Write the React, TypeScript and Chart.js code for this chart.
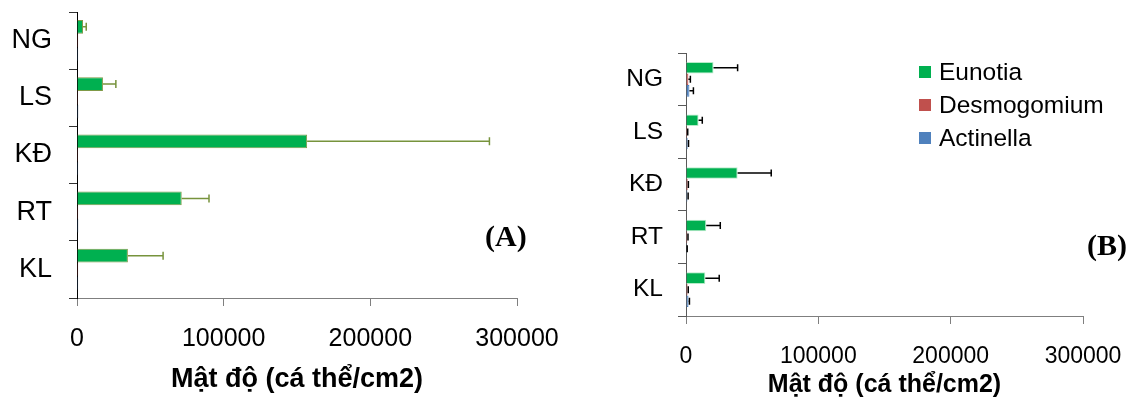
import React, { useEffect, useRef } from "react";
import { Chart, registerables } from "chart.js";

Chart.register(...registerables);

// ---------- data ----------
const categories = ["NG", "LS", "KĐ", "RT", "KL"];
const seriesNames = ["Eunotia", "Desmogomium", "Actinella"];
const xTickValues = [0, 100000, 200000, 300000];
const axisTitle = "Mật độ (cá thể/cm2)";
const panelLabels = ["(A)", "(B)"];

// Panel A
const aEunotia = [4100, 17700, 156900, 71400, 34700];
const aEunotiaErr = [2200, 8800, 124300, 18600, 24000];
const aDesmogomium = [800, 700, 700, 800, 800];
const aDesmogomiumErr = [0, 0, 0, 0, 0];
const aActinella = [800, 900, 800, 900, 800];
const aActinellaErr = [0, 0, 0, 0, 0];

// Panel B
const bEunotia = [20800, 9500, 39000, 15300, 14600];
const bEunotiaErr = [18200, 2800, 25400, 10600, 10500];
const bDesmogomium = [1800, 900, 1300, 1000, 1200];
const bDesmogomiumErr = [1500, 400, 500, 500, 500];
const bActinella = [2600, 1300, 1100, 600, 1900];
const bActinellaErr = [3000, 600, 500, 300, 700];

const FONT = "'Liberation Sans', Arial, sans-serif";
const GREEN = "#00b050";
const RED = "#c0504d";
const BLUE = "#4f81bd";

Chart.defaults.font.family = FONT;
Chart.defaults.color = "#000";

// ---------- plugins ----------
const errorBarPlugin = {
  id: "errorBars",
  afterDatasetsDraw(chart: any) {
    const ctx = chart.ctx;
    const xScale = chart.scales.x;
    chart.data.datasets.forEach((ds: any, di: number) => {
      const meta = chart.getDatasetMeta(di);
      const errs: number[] | undefined = ds.errors;
      if (!errs) return;
      meta.data.forEach((el: any, i: number) => {
        const v = ds.data[i];
        const e = errs[i];
        if (!e) return;
        const x0 = xScale.getPixelForValue(v);
        const x1 = xScale.getPixelForValue(v + e);
        const y = el.y;
        const cap = ds.errorCap || 7;
        ctx.save();
        ctx.strokeStyle = ds.errorColor || "#000";
        ctx.lineWidth = ds.errorWidth || 1;
        ctx.beginPath();
        ctx.moveTo(x0, y);
        ctx.lineTo(x1, y);
        ctx.moveTo(x1, y - cap / 2);
        ctx.lineTo(x1, y + cap / 2);
        ctx.stroke();
        ctx.restore();
      });
    });
  },
};

const decorPlugin = {
  id: "decor",
  afterDraw(chart: any, _args: any, opts: any) {
    const ctx = chart.ctx;
    ctx.save();
    if (opts.panelLabel) {
      ctx.font = `bold ${opts.panelFont}px 'Liberation Serif', 'Times New Roman', serif`;
      ctx.fillStyle = "#000";
      ctx.textAlign = "left";
      ctx.textBaseline = "alphabetic";
      ctx.fillText(opts.panelLabel, opts.panelX, opts.panelY);
    }
    if (opts.legend) {
      const L = opts.legend;
      ctx.font = `${L.font}px ${FONT}`;
      ctx.textBaseline = "middle";
      ctx.textAlign = "left";
      chart.data.datasets.forEach((ds: any, i: number) => {
        const cy = L.y + i * L.gap;
        ctx.fillStyle = ds.backgroundColor;
        ctx.fillRect(L.x, cy - L.box / 2, L.box, L.box);
        ctx.fillStyle = "#000";
        ctx.fillText(ds.label, L.x + L.box + 8, cy + 1);
      });
    }
    ctx.restore();
  },
};

// ---------- config builder ----------
function buildConfig(p: any) {
  const mk = (label: string, data: number[], errs: number[], color: string, border: string) => ({
    label,
    data,
    errors: errs,
    backgroundColor: color,
    borderColor: border,
    borderWidth: 1,
    errorColor: p.errorColor,
    errorWidth: p.errorWidth,
    errorCap: p.errorCap,
    categoryPercentage: p.catPct,
    barPercentage: 1,
  });
  return {
    type: "bar",
    data: {
      labels: categories,
      datasets: [
        mk(seriesNames[0], p.eu, p.euErr, GREEN, p.greenBorder),
        mk(seriesNames[1], p.de, p.deErr, RED, p.redBorder),
        mk(seriesNames[2], p.ac, p.acErr, BLUE, p.blueBorder),
      ],
    },
    options: {
      indexAxis: "y",
      responsive: false,
      animation: false,
      devicePixelRatio: 1,
      layout: { padding: p.padding },
      plugins: {
        legend: { display: false },
        tooltip: { enabled: false },
        decor: p.decor,
      },
      scales: {
        x: {
          type: "linear",
          min: xTickValues[0],
          max: xTickValues[xTickValues.length - 1],
          afterBuildTicks: (s: any) => {
            s.ticks = xTickValues.map((v) => ({ value: v }));
          },
          ticks: {
            font: { size: p.xTickFont },
            color: "#000",
            padding: p.xTickPad,
            maxRotation: 0,
            callback: (v: any) => String(v),
          },
          grid: { drawOnChartArea: false, drawTicks: true, tickLength: 8, color: "#7f7f7f" },
          border: { display: true, color: "#7f7f7f", width: 1 },
          title: {
            display: true,
            text: axisTitle,
            color: "#000",
            font: { size: p.titleFont, weight: "bold" },
            padding: { top: 0, bottom: p.titlePadBottom },
          },
          afterFit: (s: any) => {
            s.height = p.xHeight;
            s.paddingLeft = 0;
            s.paddingRight = 0;
          },
        },
        y: {
          type: "category",
          offset: true,
          ticks: { font: { size: p.yTickFont }, color: "#000", padding: p.yTickPad },
          grid: { drawOnChartArea: false, drawTicks: true, tickLength: 8, offset: true, color: p.yTickColor },
          border: { display: true, color: p.yAxisColor, width: 1 },
          afterFit: (s: any) => {
            s.width = p.yWidth;
            s.paddingTop = 0;
            s.paddingBottom = 0;
          },
        },
      },
    },
    plugins: [errorBarPlugin, decorPlugin],
  } as any;
}

const configA = () =>
  buildConfig({
    eu: aEunotia, euErr: aEunotiaErr,
    de: aDesmogomium, deErr: aDesmogomiumErr,
    ac: aActinella, acErr: aActinellaErr,
    greenBorder: "#7f9a48", redBorder: "#6b3a3a", blueBorder: "#3a4a60",
    errorColor: "#77933c", errorWidth: 1.5, errorCap: 8,
    catPct: 0.72,
    padding: { left: 0, top: 12, right: 83, bottom: 0 },
    yWidth: 77, xHeight: 102,
    xTickFont: 25, xTickPad: 18, yTickFont: 27, yTickPad: 17,
    titleFont: 27, titlePadBottom: 4,
    yAxisColor: "#000", yTickColor: "#333",
    decor: { panelLabel: panelLabels[0], panelFont: 30, panelX: 485, panelY: 246 },
  });

const configB = () =>
  buildConfig({
    eu: bEunotia, euErr: bEunotiaErr,
    de: bDesmogomium, deErr: bDesmogomiumErr,
    ac: bActinella, acErr: bActinellaErr,
    greenBorder: "#b6ebc8", redBorder: RED, blueBorder: BLUE,
    errorColor: "#000", errorWidth: 1.5, errorCap: 7,
    catPct: 0.66,
    padding: { left: 0, top: 53, right: 54, bottom: 0 },
    yWidth: 86, xHeight: 84,
    xTickFont: 23, xTickPad: 19, yTickFont: 24.5, yTickPad: 15,
    titleFont: 25, titlePadBottom: 0,
    yAxisColor: "#595959", yTickColor: "#595959",
    decor: {
      panelLabel: panelLabels[1], panelFont: 30, panelX: 487, panelY: 255,
      legend: { x: 319, y: 72, gap: 33, box: 12, font: 24.5 },
    },
  });

function Panel({ config, left, width, height }: any) {
  const ref = useRef<HTMLCanvasElement>(null);
  useEffect(() => {
    const chart = new Chart(ref.current as HTMLCanvasElement, config());
    return () => chart.destroy();
  }, []);
  return (
    <canvas
      ref={ref}
      width={width}
      height={height}
      style={{ position: "absolute", left, top: 0, width, height }}
    />
  );
}

export default function App() {
  return (
    <div style={{ position: "fixed", left: 0, top: 0, width: 1137, height: 400, background: "#fff", overflow: "hidden" }}>
      <Panel config={configA} left={0} width={600} height={400} />
      <Panel config={configB} left={600} width={537} height={400} />
    </div>
  );
}
